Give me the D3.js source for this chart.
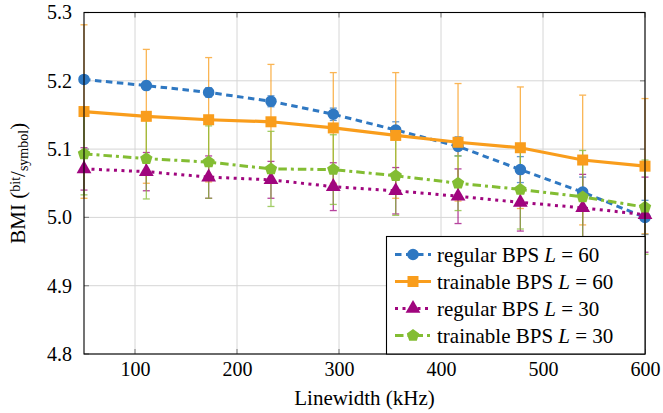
<!DOCTYPE html>
<html><head><meta charset="utf-8">
<script src="https://cdn.jsdelivr.net/npm/d3@7"></script>
<style>body{margin:0;background:#fff}svg{display:block}</style>
</head><body><svg id="c" width="663" height="413"></svg>
<script>
const linewidth = [50, 111.1, 172.2, 233.3, 294.4, 355.6, 416.7, 477.8, 538.9, 600];
const regular60 = [5.202, 5.193, 5.183, 5.170, 5.151, 5.128, 5.104, 5.070, 5.037, 5.000];
const regular60Err = [0.005, 0.006, 0.007, 0.008, 0.009, 0.012, 0.014, 0.019, 0.022, 0.025];
const trainable60 = [5.155, 5.148, 5.143, 5.140, 5.131, 5.120, 5.110, 5.102, 5.084, 5.075];
const trainable60Err = [0.127, 0.098, 0.091, 0.084, 0.081, 0.092, 0.086, 0.089, 0.095, 0.099];
const regular30 = [5.071, 5.067, 5.059, 5.055, 5.045, 5.039, 5.031, 5.022, 5.014, 5.004];
const regular30Err = [0.031, 0.028, 0.031, 0.027, 0.035, 0.034, 0.040, 0.042, 0.049, 0.055];
const trainable30 = [5.093, 5.086, 5.081, 5.071, 5.070, 5.061, 5.050, 5.041, 5.030, 5.015];
const trainable30Err = [0.060, 0.059, 0.053, 0.055, 0.051, 0.058, 0.040, 0.058, 0.068, 0.069];
const seriesNames = ["regular BPS", "trainable BPS", "regular BPS", "trainable BPS"];
const seriesL = ["60", "60", "30", "30"];
const xTicks = [100, 200, 300, 400, 500, 600];
const yTicks = [4.8, 4.9, 5.0, 5.1, 5.2, 5.3];

const FONT = "'Times New Roman', Tinos, 'Liberation Serif', 'DejaVu Serif', 'Noto Serif', serif";

const series = [
  {vals: regular60, err: regular60Err, color: "#2f78c2", dash: "6.5,4.5", width: 3, sym: "circle"},
  {vals: trainable60, err: trainable60Err, color: "#f99d1c", dash: null, width: 3.2, sym: "square"},
  {vals: regular30, err: regular30Err, color: "#a0057e", dash: "3,4.5", width: 3, sym: "triangle"},
  {vals: trainable30, err: trainable30Err, color: "#83bd33", dash: "8.5,4,3,4", width: 3, sym: "pentagon"}
];
function pentagon(r){const p=[];for(let i=0;i<5;i++){const a=-Math.PI/2+i*2*Math.PI/5;p.push([r*Math.cos(a),r*Math.sin(a)]);}return "M"+p.map(q=>q.join(",")).join("L")+"Z";}
function markerPath(s){
  if(s.sym==="pentagon") return pentagon(6.5);
  if(s.sym==="circle") return d3.symbol().type(d3.symbolCircle).size(105)();
  if(s.sym==="square") return d3.symbol().type(d3.symbolSquare).size(121)();
  return d3.symbol().type(d3.symbolTriangle).size(95)();
}

const svg = d3.select("#c");
const L = 84, R = 645, T = 12.5, B = 354;
const x = d3.scaleLinear().domain([50, 600]).range([L, R]);
const y = d3.scaleLinear().domain([4.8, 5.3]).range([B, T]);

const g = svg.append("g");
g.selectAll(".gx").data(xTicks).join("line").attr("x1", d=>x(d)).attr("x2", d=>x(d)).attr("y1", T).attr("y2", B).attr("stroke", "#d6d6d6").attr("stroke-width", 1);
g.selectAll(".gy").data(yTicks).join("line").attr("x1", L).attr("x2", R).attr("y1", d=>y(d)).attr("y2", d=>y(d)).attr("stroke", "#d6d6d6").attr("stroke-width", 1);
g.selectAll(".tb").data(xTicks).join("line").attr("x1", d=>x(d)).attr("x2", d=>x(d)).attr("y1", B).attr("y2", B-5).attr("stroke", "#8a8a8a").attr("stroke-width", 1.2);
g.selectAll(".tt").data(xTicks).join("line").attr("x1", d=>x(d)).attr("x2", d=>x(d)).attr("y1", T).attr("y2", T+5).attr("stroke", "#8a8a8a").attr("stroke-width", 1.2);
g.selectAll(".tl").data(yTicks).join("line").attr("x1", L).attr("x2", L+5).attr("y1", d=>y(d)).attr("y2", d=>y(d)).attr("stroke", "#8a8a8a").attr("stroke-width", 1.2);
g.selectAll(".tr").data(yTicks).join("line").attr("x1", R).attr("x2", R-5).attr("y1", d=>y(d)).attr("y2", d=>y(d)).attr("stroke", "#8a8a8a").attr("stroke-width", 1.2);

const xAxis = svg.append("g").attr("transform", `translate(0,${B})`).call(d3.axisBottom(x).tickValues(xTicks).tickSize(0).tickPadding(3));
const yAxis = svg.append("g").attr("transform", `translate(${L},0)`).call(d3.axisLeft(y).tickValues(yTicks).tickFormat(d3.format(".1f")).tickSize(0).tickPadding(12));
[xAxis, yAxis].forEach(a => { a.select(".domain").remove(); a.attr("font-family", FONT).attr("font-size", 20); a.selectAll("text").attr("fill", "#000"); });
xAxis.selectAll("text").attr("dy", "0.95em");

series.forEach(s => {
  const eg = svg.append("g").attr("stroke", s.color).attr("stroke-width", 1.3).attr("opacity", 0.75);
  linewidth.forEach((xv, i) => {
    const y1 = y(s.vals[i] + s.err[i]), y2 = y(s.vals[i] - s.err[i]), xx = x(xv);
    eg.append("line").attr("x1", xx).attr("x2", xx).attr("y1", y1).attr("y2", y2);
    eg.append("line").attr("x1", xx-3.5).attr("x2", xx+3.5).attr("y1", y1).attr("y2", y1);
    eg.append("line").attr("x1", xx-3.5).attr("x2", xx+3.5).attr("y1", y2).attr("y2", y2);
  });
});
const line = d3.line().x((d,i)=>x(linewidth[i])).y(d=>y(d));
series.forEach(s => {
  svg.append("path").attr("d", line(s.vals)).attr("fill", "none").attr("stroke", s.color).attr("stroke-width", s.width).attr("stroke-dasharray", s.dash);
});
series.forEach(s => {
  svg.append("g").selectAll("path").data(s.vals).join("path")
    .attr("d", markerPath(s)).attr("transform", (d,i)=>`translate(${x(linewidth[i])},${y(d)})`).attr("fill", s.color);
});

svg.append("rect").attr("x", L).attr("y", T).attr("width", R-L).attr("height", B-T).attr("fill", "none").attr("stroke", "#000").attr("stroke-width", 1.1);

const lg = svg.append("g").attr("font-family", FONT);
lg.append("rect").attr("x", 386.5).attr("y", 236.5).attr("width", R-386.5).attr("height", B-236.5).attr("fill", "#fff").attr("stroke", "#000").attr("stroke-width", 1.1);
series.forEach((s, i) => {
  const cy = 254.5 + i*27;
  lg.append("line").attr("x1", 395).attr("x2", 431).attr("y1", cy).attr("y2", cy).attr("stroke", s.color).attr("stroke-width", s.width).attr("stroke-dasharray", s.dash);
  lg.append("path").attr("d", markerPath(s)).attr("transform", `translate(413,${cy})`).attr("fill", s.color);
  const t = lg.append("text").attr("x", 437).attr("y", cy + 7).attr("font-size", 21);
  t.append("tspan").text(seriesNames[i] + " ");
  t.append("tspan").attr("font-style", "italic").text("L");
  t.append("tspan").text(" = " + seriesL[i]);
});

svg.append("text").attr("font-family", FONT).attr("x", (L+R)/2).attr("y", 405).attr("text-anchor", "middle").attr("font-size", 21).text("Linewidth (kHz)");
const yl = svg.append("text").attr("font-family", FONT).attr("transform", `translate(25,${(T+B)/2}) rotate(-90)`).attr("text-anchor", "middle").attr("font-size", 21);
yl.append("tspan").text("BMI (");
yl.append("tspan").attr("font-size", 14).attr("dy", -5).text("bit");
yl.append("tspan").attr("dy", 5).text("/");
yl.append("tspan").attr("font-size", 14).attr("dy", 3).text("symbol");
yl.append("tspan").attr("dy", -3).text(")");
</script></body></html>
